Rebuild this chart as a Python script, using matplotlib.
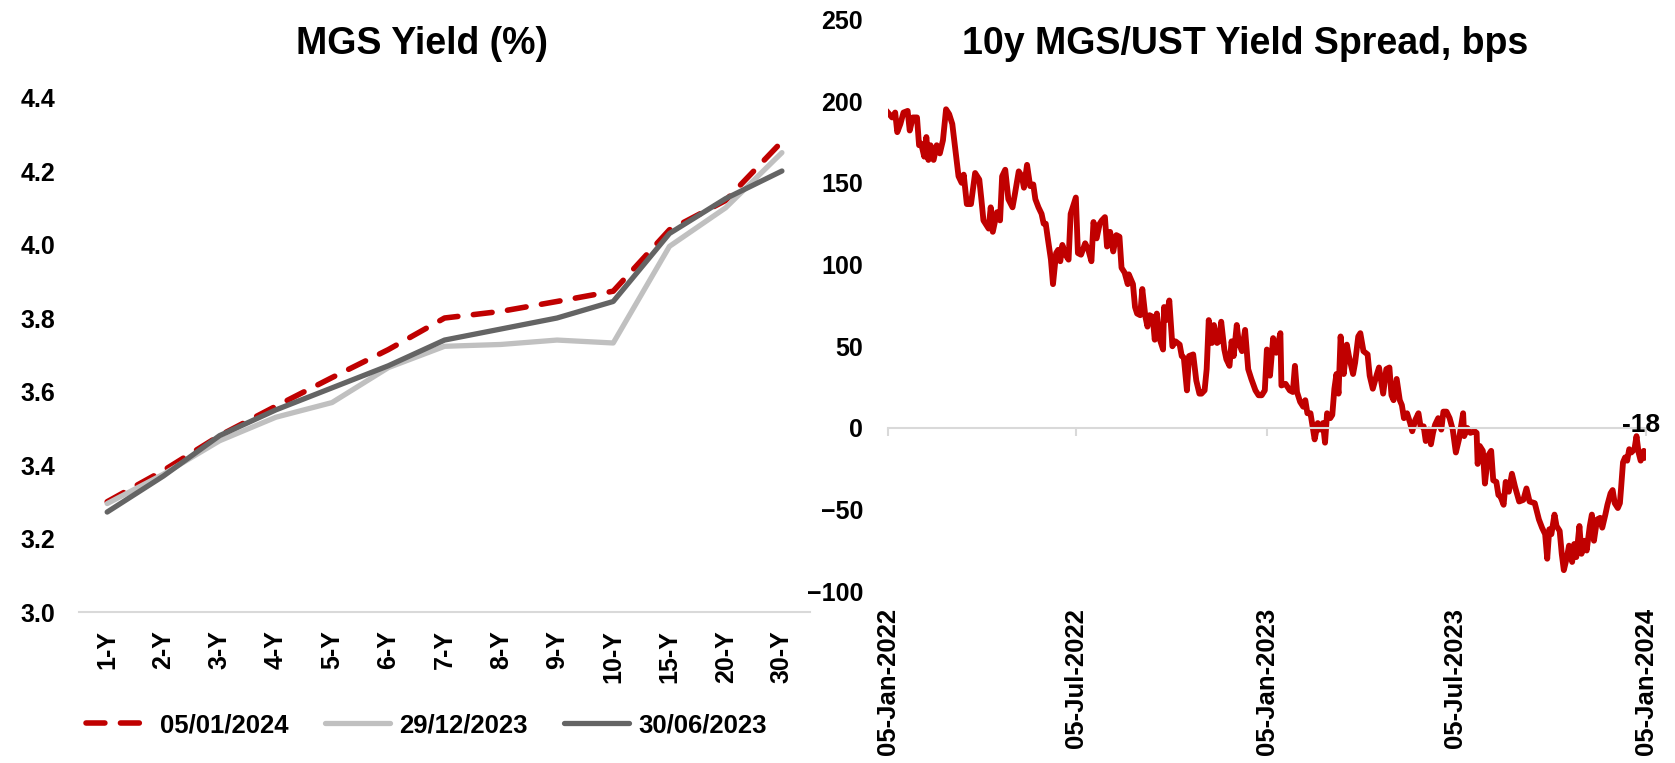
import matplotlib
matplotlib.use('Agg')
import matplotlib.pyplot as plt
import matplotlib.dates as mdates
import numpy as np
import pandas as pd

plt.rcParams['font.family'] = ['Liberation Sans', 'DejaVu Sans']
plt.rcParams['font.weight'] = 'bold'

# Data #########################################################################
tenors = ['1-Y', '2-Y', '3-Y', '4-Y', '5-Y', '6-Y', '7-Y', '8-Y', '9-Y', '10-Y', '15-Y', '20-Y', '30-Y']
yield_05jan24 = [3.30, 3.385, 3.48, 3.56, 3.638, 3.714, 3.80, 3.818, 3.845, 3.873, 4.04, 4.12, 4.28]
yield_29dec23 = [3.295, 3.375, 3.466, 3.53, 3.57, 3.665, 3.723, 3.728, 3.74, 3.732, 3.995, 4.10, 4.25]
yield_30jun23 = [3.272, 3.37, 3.48, 3.55, 3.61, 3.67, 3.74, 3.77, 3.80, 3.845, 4.03, 4.125, 4.20]
curve_labels = ['05/01/2024', '29/12/2023', '30/06/2023']

# 10y MGS/UST spread, bps (days counted from 05-Jan-2022)
spread_start = '2022-01-05'
spread_days = [0, 4, 7, 9, 12, 15, 19, 21, 24, 28, 30, 32, 35, 37, 39, 41, 44, 47, 50, 53,
               56, 59, 62, 65, 68, 71, 73, 76, 80, 84, 88, 90, 92, 97, 99, 101, 105,
               108, 110, 113, 116, 120, 122, 126, 129, 131, 134, 137, 140, 142, 145, 148, 150,
               152, 154, 157, 159, 162, 164, 166, 168, 171, 174, 176, 181, 183, 186, 190, 193,
               196, 198, 201, 204, 206, 209, 211, 214, 217, 220, 223, 225, 228, 231, 232, 236,
               238, 240, 243, 245, 248, 250, 252, 255, 257, 259, 262, 265, 266, 268, 271, 274,
               277, 281, 283, 285, 288, 290, 294, 297, 300,
               302, 305, 307, 309, 312, 314, 317, 319, 321, 324, 326, 329, 331, 333, 336, 338,
               341, 344, 347, 350, 354, 357, 360, 363, 365, 368, 371, 374, 378, 379, 383, 387,
               390, 392, 394, 397, 400, 402, 404, 407, 409, 411, 414, 416, 419, 421, 423, 426,
               428, 430, 432, 434, 436, 439, 442, 444, 448, 450, 453, 455, 458, 462, 464, 467,
               471, 473,
               477, 480, 483, 485, 487, 490, 493, 495, 497, 500, 503, 505, 508, 511, 513, 516,
               518, 521, 523, 525, 527, 530, 533, 535, 538, 541, 544, 547, 550, 554, 555, 558,
               561, 565, 567, 568, 570, 573, 575, 578, 581, 583, 586, 588, 590, 593, 595, 598,
               601, 604, 608, 612, 615, 618,
               623, 627, 630, 633, 635, 637, 639, 642, 644, 647, 649, 651, 654, 656, 659, 661,
               663, 666, 668, 671, 673, 676, 678, 680, 683, 686, 688, 691, 693, 696, 698, 700,
               703, 705, 706, 708, 710, 712, 714, 716, 719, 721, 723, 725, 728, 730]
spread_bps = [193, 190, 193, 181, 186, 193, 194, 182, 190, 190, 173, 174, 166, 178, 164, 173, 164, 173, 168, 176,
              195, 192, 186, 170, 154, 150, 155, 137, 137, 156, 152, 140, 127, 122, 135, 120, 132,
              127, 154, 158, 140, 135, 142, 157, 154, 147, 161, 148, 149, 140, 135, 131, 125,
              125, 116, 103, 88, 107, 109, 102, 112, 106, 103, 131, 141, 107, 106, 113, 109,
              102, 126, 116, 125, 127, 129, 111, 120, 108, 118, 117, 98, 95, 88, 94, 88,
              74, 70, 69, 85, 68, 62, 69, 68, 54, 70, 54, 48, 74, 66, 78, 50,
              53, 51, 44, 43, 23, 44, 45, 29, 21,
              21, 23, 36, 66, 52, 63, 52, 53, 65, 48, 42, 38, 53, 44, 63, 52,
              47, 60, 36, 30, 23, 20, 20, 23, 48, 32, 55, 46, 58, 26, 27, 23,
              22, 38, 22, 16, 13, 17, 9, 9, 1, -7, 3, -1, 3, -9, 9, 6,
              8, 24, 33, 21, 56, 33, 51, 44, 33, 40, 56, 58, 47, 45, 32, 24,
              33, 37,
              21, 36, 37, 20, 17, 30, 17, 14, 6, 9, 3, -2, 5, 9, 1, 1,
              -8, -1, -10, -3, 2, 6, -1, 10, 10, 6, -1, -15, -7, 9, -5, 0,
              -3, -2, -3, -22, -11, -14, -34, -17, -14, -32, -33, -41, -42, -47, -33, -39,
              -28, -36, -45, -44, -37, -45,
              -46, -56, -61, -65, -80, -62, -65, -53, -60, -63, -77, -87, -79, -72, -82, -71,
              -79, -60, -77, -69, -75, -60, -53, -69, -56, -55, -61, -53, -47, -40, -38, -46,
              -49, -46, -38, -21, -18, -20, -13, -15, -13, -5, -15, -20, -14, -18]
date_ticks = ['2022-01-05', '2022-07-05', '2023-01-05', '2023-07-05', '2024-01-05']

# Styles #######################################################################
RED = '#C00000'
LIGHT = '#C0C0C0'
DARK = '#646464'
AXIS = '#D9D9D9'

fig = plt.figure(figsize=(16.75, 7.63), dpi=100)
ax1 = fig.add_axes([0.0472, 0.1979, 0.4364, 0.6743])
ax2 = fig.add_axes([0.5301, 0.2249, 0.4525, 0.7497])

# Left panel: yield curves #####################################################
x = np.arange(len(tenors))
ax1.plot(x, yield_05jan24, color=RED, lw=4.0, dashes=(3.4, 2.8), dash_capstyle='round',
         label=curve_labels[0])
ax1.plot(x, yield_29dec23, color=LIGHT, lw=3.8, solid_capstyle='round', label=curve_labels[1])
ax1.plot(x, yield_30jun23, color=DARK, lw=3.8, solid_capstyle='round', label=curve_labels[2])

ax1.set_xlim(-0.5, len(tenors) - 0.5)
ax1.set_ylim(3.0, 4.4)
ax1.set_yticks(np.arange(3.0, 4.41, 0.2))
ax1.yaxis.set_major_formatter(matplotlib.ticker.FormatStrFormatter('%.1f'))
ax1.set_xticks(x)
ax1.set_xticklabels(tenors, rotation=90)
for s in ['top', 'right', 'left']:
    ax1.spines[s].set_visible(False)
ax1.spines['bottom'].set_color(AXIS)
ax1.spines['bottom'].set_linewidth(1.5)
ax1.tick_params(axis='x', length=0, pad=13, labelsize=18)
ax1.tick_params(axis='y', length=0, pad=17, labelsize=18)

fig.legend(loc='center', bbox_to_anchor=(0.2546, 0.0498), ncol=3, frameon=False,
           fontsize=18.5, handlelength=2.55, handletextpad=0.35, columnspacing=1.4)

fig.text(422 / 1675, 1 - 44 / 763, 'MGS Yield (%)', ha='center', va='center', fontsize=27)

# Right panel: spread ##########################################################
dates = pd.Timestamp(spread_start) + pd.to_timedelta(spread_days, unit='D')
ax2.plot(dates, spread_bps, color=RED, lw=4.2, solid_joinstyle='round')

tick_dates = pd.to_datetime(date_ticks)
ax2.set_xlim(tick_dates[0], tick_dates[-1])
ax2.set_ylim(-100, 250)
ax2.set_yticks(np.arange(-100, 251, 50))
for s in ['top', 'right', 'left']:
    ax2.spines[s].set_visible(False)
ax2.spines['bottom'].set_position(('data', 0))
ax2.spines['bottom'].set_color(AXIS)
ax2.spines['bottom'].set_linewidth(1.5)
ax2.set_xticks(mdates.date2num(tick_dates))
ax2.tick_params(axis='x', direction='out', length=6, width=1.5, color=AXIS, labelbottom=False)
ax2.tick_params(axis='y', length=0, pad=18, labelsize=18)

sec = ax2.secondary_xaxis('bottom')
sec.set_xticks(mdates.date2num(tick_dates))
sec.set_xticklabels([d.strftime('%d-%b-%Y') for d in tick_dates], rotation=90)
sec.tick_params(length=0, pad=12, labelsize=18.5)
for s in sec.spines.values():
    s.set_visible(False)

ax2.annotate(f'{spread_bps[-1]:.0f}', xy=(dates[-1], spread_bps[-1]), xytext=(-3.6, 23),
             textcoords='offset points', ha='center', va='center', fontsize=19)

fig.text(1245 / 1675, 1 - 44 / 763, '10y MGS/UST Yield Spread, bps', ha='center', va='center',
         fontsize=27)

fig.savefig('out.png', dpi=100)
